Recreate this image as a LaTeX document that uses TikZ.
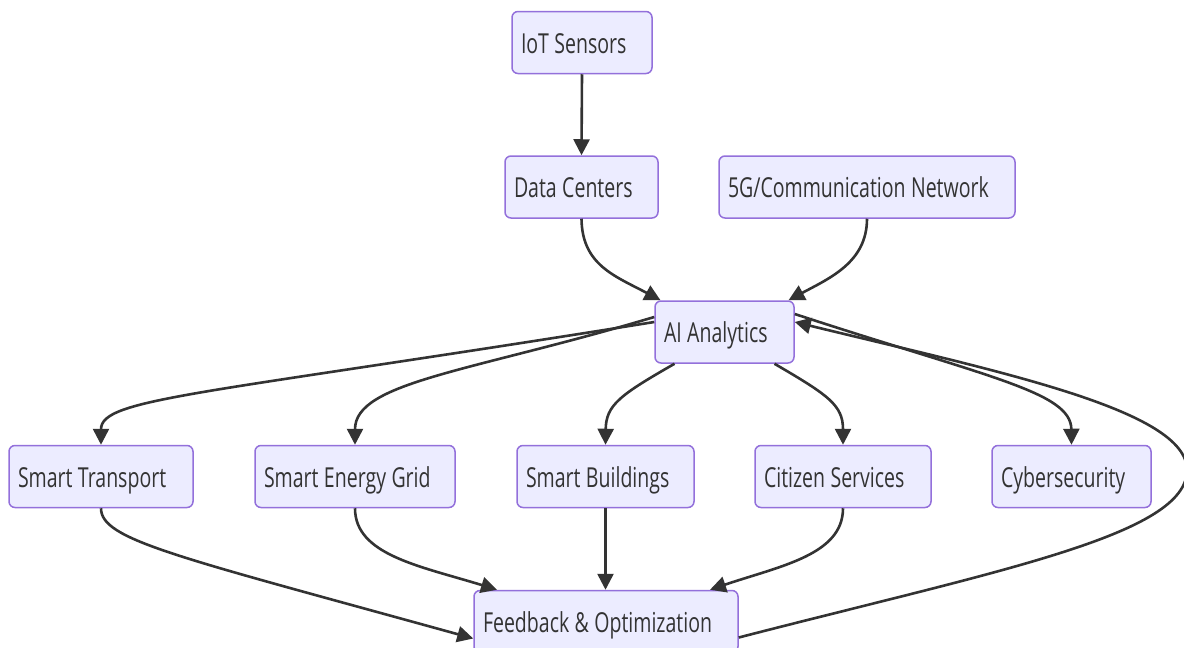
\documentclass[tikz,border=0pt]{standalone}
\usepackage{fontspec}
\usetikzlibrary{arrows.meta}
\newfontfamily\boxfont[FakeStretch=0.71]{Open Sans}
\definecolor{boxfill}{HTML}{ECECFF}
\definecolor{boxline}{HTML}{9370DB}
\definecolor{ink}{HTML}{333333}
\begin{document}
\begin{tikzpicture}[x=1pt,y=-1pt,
  box/.style={draw=boxline,fill=boxfill,line width=1.5pt,rounded corners=6pt,
    minimum width=#1,minimum height=62pt,inner xsep=9pt,inner ysep=0pt,
    text width=#1-18pt,text height=25pt,text depth=4pt,align=left,text=ink,
    font=\boxfont\fontsize{27.5}{32}\selectfont,
    execute at begin node={\spaceskip=5.4pt plus 1pt minus 1pt\relax}},
  link/.style={draw=ink,line width=2.6pt,
    -{Triangle[length=16pt,width=16pt]}}]
\useasboundingbox (0,0) rectangle (1184,648);
\clip (0,0) rectangle (1184,648);

% nodes
\node[box=140pt] (iot)  at (582,42.5)    {IoT Sensors};
\node[box=153pt] (dc)   at (581.5,187) {Data Centers};
\node[box=296pt] (net)  at (867,187) {5G/Communication Network};
\node[box=139pt] (ai)   at (724.5,332) {AI Analytics};
\node[box=184pt] (tr)   at (101,476.5)   {Smart Transport};
\node[box=200pt] (en)   at (355,476.5)   {Smart Energy Grid};
\node[box=177pt] (bd)   at (605.5,476.5) {Smart Buildings};
\node[box=176pt] (cs)   at (843,476.5)   {Citizen Services};
\node[box=159pt] (cy)   at (1071.5,476.5) {Cybersecurity};
\node[box=264pt] (fb)   at (606,621.5)   {Feedback \& Optimization};

% connectors
\draw[link] (iot.south) -- (dc.north);
\draw[link] (dc.south) .. controls (582,265) and (615,276) .. ([xshift=-64pt]ai.north);
\draw[link] (net.south) .. controls (867,262) and (830,278) .. ([xshift=64pt]ai.north);

\draw[link] ([yshift=10pt]ai.west) .. controls (200,395) and (101,398) .. (tr.north);
\draw[link] ([yshift=15pt]ai.west) .. controls (470,372) and (355,382) .. (en.north);
\draw[link] ([xshift=-50pt]ai.south) .. controls (620,395) and (606,405) .. (bd.north);
\draw[link] ([xshift=50pt]ai.south) .. controls (828,395) and (843,405) .. (cs.north);
\draw[link] ([yshift=18pt]ai.east) .. controls (990,378) and (1071,392) .. (cy.north);

\draw[link] (tr.south) .. controls (101,540) and (175,556) .. ([yshift=-17pt]fb.west);
\draw[link] (en.south) .. controls (355,555) and (420,566) .. ([xshift=-109pt]fb.north);
\draw[link] (bd.south) -- ([xshift=-0.5pt]fb.north);
\draw[link] (cs.south) .. controls (843,555) and (780,566) .. ([xshift=104pt]fb.north);

\coordinate (loop) at (1187,470);
\draw[link] ([yshift=-16pt]fb.east) .. controls (1000,570) and (1187,535) .. (loop)
  .. controls (1187,410) and (1000,372) .. ([yshift=10pt]ai.east);
\end{tikzpicture}
\end{document}
